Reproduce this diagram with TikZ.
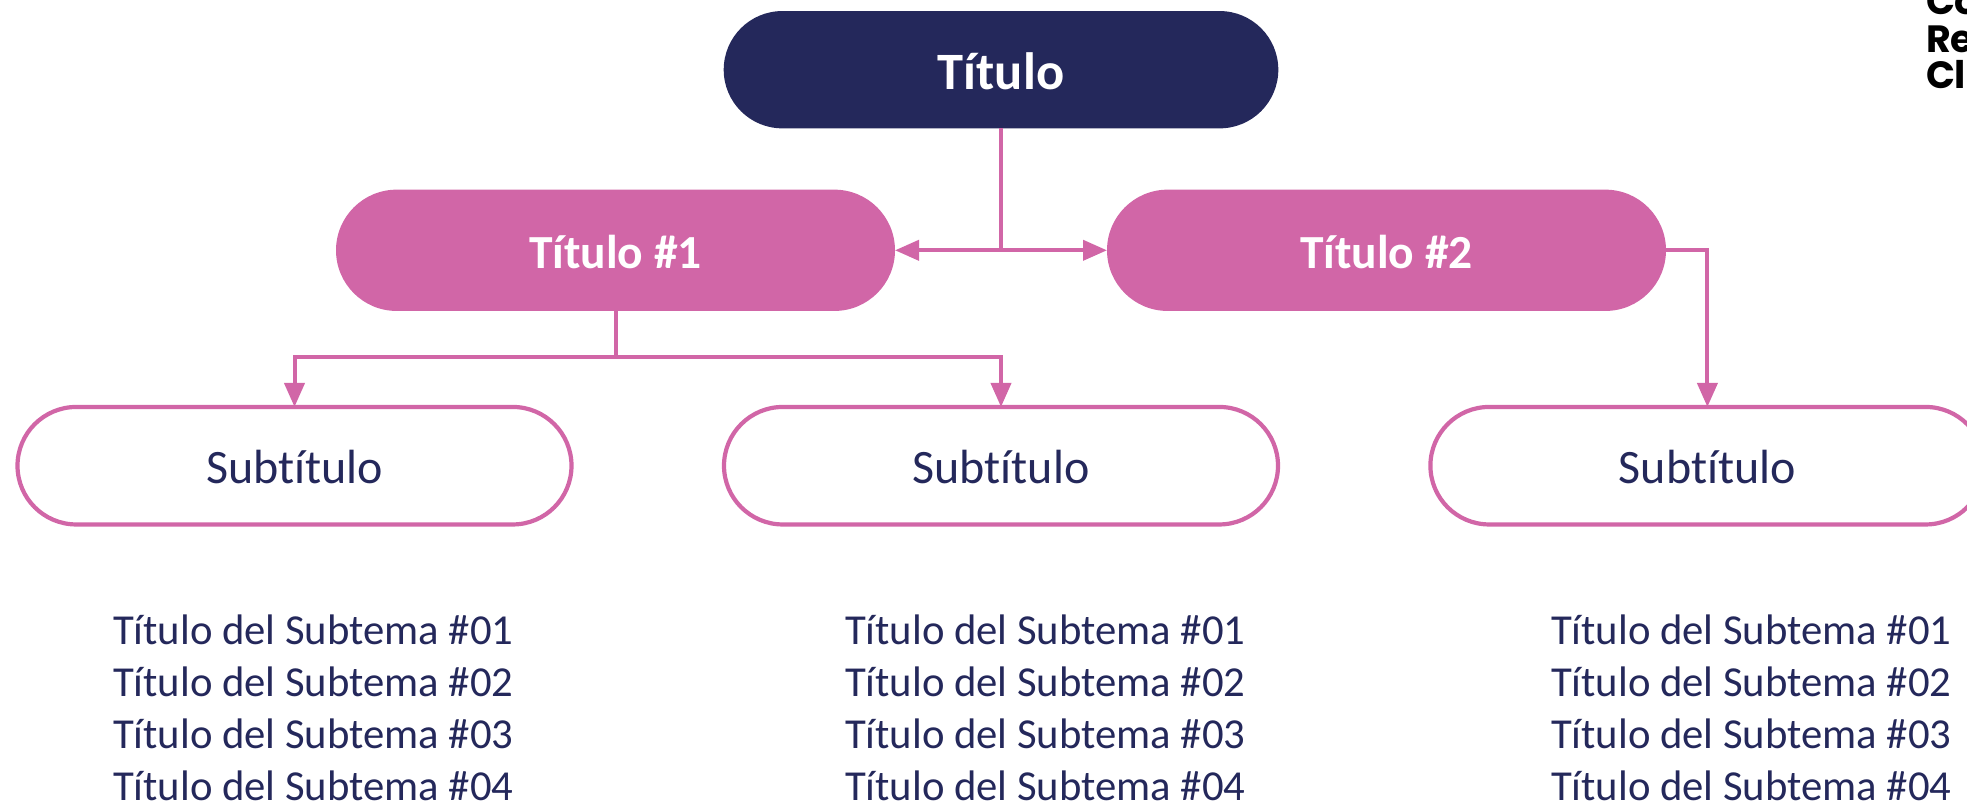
\documentclass[tikz,border=0pt]{standalone}
\usepackage{fontspec}
\setmainfont{Carlito}[Ligatures=CommonOff]
\newfontfamily\logofont{Poppins}
\usetikzlibrary{arrows.meta,shapes.misc,calc}
\definecolor{navy}{HTML}{24285B}
\definecolor{rosa}{HTML}{D166A7}
\tikzset{
  pill/.style={rounded rectangle,inner sep=0pt,outer sep=0pt,text depth=0pt},
  toppill/.style={pill,fill=navy,text=white,minimum width=554.6pt,minimum height=117.3pt,text height=38.8pt,font=\fontsize{52.5}{60}\selectfont\bfseries},
  midpill/.style={pill,fill=rosa,text=white,minimum width=559pt,minimum height=121.3pt,text height=35.5pt,font=\fontsize{47.5}{54}\selectfont\bfseries},
  subpill/.style={pill,draw=rosa,line width=4.2pt,fill=white,text=navy,minimum width=554pt,minimum height=117.5pt,text height=35.5pt,font=\fontsize{48}{56}\selectfont},
  listitem/.style={anchor=base west,inner sep=0pt,outer sep=0pt,text=navy,font=\fontsize{42.7}{50}\selectfont},
  logotext/.style={anchor=base west,inner sep=0pt,outer sep=0pt,text=black,font=\fontsize{38}{44}\logofont\bfseries},
  link/.style={draw=rosa,line width=4pt},
  tip/.style={-{Triangle[length=24pt,width=20pt]}},
}
\begin{document}
\begin{tikzpicture}[x=1pt,y=-1pt]
\useasboundingbox (0,0) rectangle (1967,803);
\clip (0,0) rectangle (1967,803);
\node[toppill] (top) at (1001,69.7) {Título};
\node[midpill] (one) at (615.5,250.3) {Título \#1};
\node[midpill] (two) at (1386.5,250.3) {Título \#2};
\node[subpill] (s1) at (294.5,465.7) {Subtítulo};
\node[subpill] (s2) at (1001,465.7) {Subtítulo};
\node[subpill] (s3) at (1707.4,465.7) {Subtítulo};
\foreach \c/\xx in {a/113,b/845,c/1551}{
  \foreach \n/\yy in {1/644,2/696.5,3/748.5,4/800}{
    \node[listitem] (l\c\n) at (\xx,\yy) {Título del Subtema \#0\n};
  }
}
\node[logotext] (logoa) at (1926,14) {Co};
\node[logotext] (logob) at (1926,52) {Re};
\node[logotext] (logoc) at (1926,88) {Cl};
\coordinate (tj) at (top.south |- one.east);
\coordinate (oj) at ($(one.south)+(0,46.5)$);
\draw[link] (top.south) -- (tj);
\draw[link,tip] (tj) -- (one.east);
\draw[link,tip] (tj) -- (two.west);
\draw[link] (one.south) -- (oj);
\draw[link,tip] (oj) -| (s1.north);
\draw[link,tip] (oj) -| (s2.north);
\draw[link,tip] (two.east) -| (s3.north);
\end{tikzpicture}
\end{document}
